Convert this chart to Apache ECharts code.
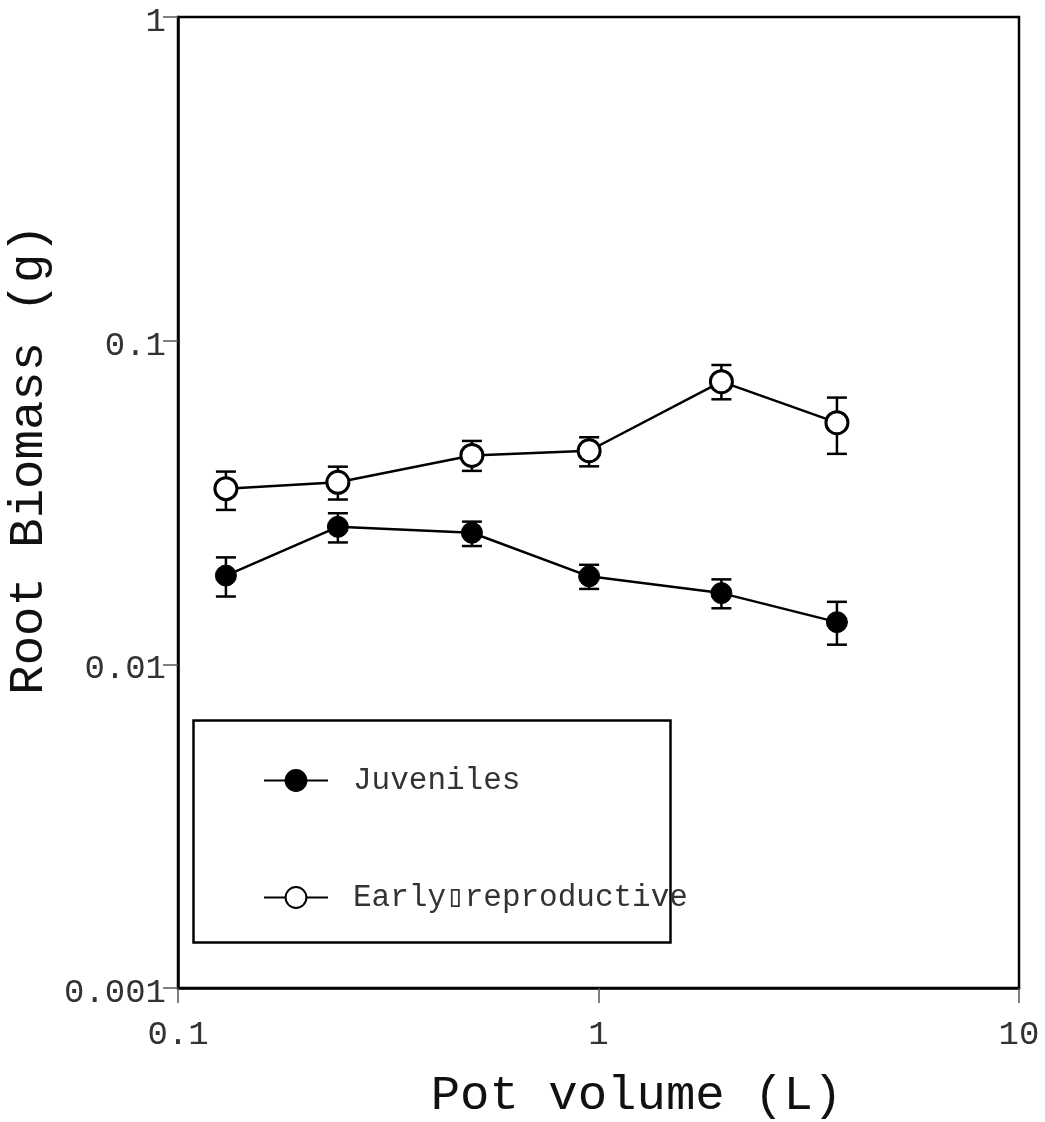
<!DOCTYPE html>
<html>
<head>
<meta charset="utf-8">
<script src="https://cdn.jsdelivr.net/npm/echarts@6/dist/echarts.min.js"></script>
<style>
html,body{margin:0;padding:0;background:#fff;}
#chart{width:1045px;height:1122px;}
</style>
</head>
<body>
<div id="chart"></div>
<script>
// Data
const potVolume = [0.13, 0.24, 0.50, 0.95, 1.96, 3.69];
const juvMean  = [0.0188, 0.0266, 0.0255, 0.0187, 0.0166, 0.0135];
const juvLow   = [0.0162, 0.0238, 0.0232, 0.0171, 0.0149, 0.0115];
const juvHigh  = [0.0214, 0.0293, 0.0276, 0.0203, 0.0183, 0.0156];
const earlyMean = [0.0349, 0.0365, 0.0442, 0.0457, 0.0747, 0.0558];
const earlyLow  = [0.0300, 0.0323, 0.0396, 0.0409, 0.0659, 0.0447];
const earlyHigh = [0.0394, 0.0408, 0.0490, 0.0503, 0.0841, 0.0667];
const xTickLabels = ['0.1', '1', '10'];
const yTickLabels = ['0.001', '0.01', '0.1', '1'];
const seriesNames = ['Juveniles', 'Early\u25AFreproductive'];

const FONT = '"Liberation Mono", "DejaVu Sans Mono", monospace';

function pairs(xs, ys) { return xs.map((x, i) => [x, ys[i]]); }
function errData(xs, lo, hi) { return xs.map((x, i) => [x, lo[i], hi[i]]); }

function errRender(params, api) {
  const x = api.value(0);
  const lo = api.coord([x, api.value(1)]);
  const hi = api.coord([x, api.value(2)]);
  const hw = 10;
  const style = { stroke: '#000', lineWidth: 2.5 };
  return {
    type: 'group',
    children: [
      { type: 'line', shape: { x1: lo[0], y1: lo[1], x2: hi[0], y2: hi[1] }, style: style },
      { type: 'line', shape: { x1: lo[0] - hw, y1: lo[1], x2: lo[0] + hw, y2: lo[1] }, style: style },
      { type: 'line', shape: { x1: hi[0] - hw, y1: hi[1], x2: hi[0] + hw, y2: hi[1] }, style: style }
    ]
  };
}

function labelFrom(list, rich) {
  return function (v) {
    const e = Math.round(Math.log10(v));
    const found = list.find(s => Math.round(Math.log10(parseFloat(s))) === e);
    if (!found) return '';
    return rich ? '{t|' + found + '}' : found;
  };
}

const chart = echarts.init(document.getElementById('chart'), null, { renderer: 'canvas' });
chart.setOption({
  backgroundColor: '#fff',
  animation: false,
  grid: { left: 178, right: 26, top: 17, bottom: 134, show: true, borderColor: '#000', borderWidth: 2.5, backgroundColor: 'transparent', containLabel: false, outerBoundsMode: 'none' },
  xAxis: {
    type: 'log', logBase: 10, min: 0.1, max: 10,
    name: 'Pot volume (L)', nameLocation: 'middle', nameGap: 84,
    nameTextStyle: { fontFamily: FONT, fontSize: 49, color: '#111', padding: [0, 0, 0, 76] },
    axisLine: { show: true, lineStyle: { color: '#000', width: 2.5 } },
    axisTick: { show: true, inside: false, length: 15, lineStyle: { color: '#555', width: 1.5 } },
    axisLabel: { fontFamily: FONT, fontSize: 34, color: '#333', margin: 30, formatter: labelFrom(xTickLabels, false) },
    splitLine: { show: false }, minorTick: { show: false }
  },
  yAxis: {
    type: 'log', logBase: 10, min: 0.001, max: 1,
    name: 'Root Biomass (g)', nameLocation: 'middle', nameGap: 111,
    nameTextStyle: { fontFamily: FONT, fontSize: 49, color: '#111', padding: [0, 0, 0, 86] },
    axisLine: { show: true, lineStyle: { color: '#000', width: 2.5 } },
    axisTick: { show: true, inside: false, length: 15, lineStyle: { color: '#555', width: 1.5 } },
    axisLabel: {
      fontFamily: FONT, fontSize: 34, color: '#333', margin: 12,
      formatter: labelFrom(yTickLabels, true),
      rich: { t: { fontFamily: FONT, fontSize: 34, color: '#333', padding: [10, 0, 0, 0] } }
    },
    splitLine: { show: false }, minorTick: { show: false }
  },
  legend: {
    data: seriesNames,
    orient: 'vertical',
    left: 263, top: 765, padding: 0,
    itemWidth: 64, itemHeight: 26, itemGap: 86,
    textStyle: { fontFamily: FONT, fontSize: 31, color: '#333', padding: [0, 0, 0, 20] },
    selectedMode: false
  },
  graphic: [{
    type: 'rect', left: 191, top: 718, z: 0,
    shape: { width: 477, height: 222 },
    style: { fill: 'none', stroke: '#000', lineWidth: 2.5 }
  }],
  series: [
    { type: 'custom', name: 'errJuv', renderItem: errRender, data: errData(potVolume, juvLow, juvHigh), z: 1, silent: true },
    { type: 'custom', name: 'errEarly', renderItem: errRender, data: errData(potVolume, earlyLow, earlyHigh), z: 1, silent: true },
    {
      type: 'line', name: seriesNames[0], data: pairs(potVolume, juvMean), z: 3,
      symbol: 'circle', symbolSize: 21, showAllSymbol: true,
      lineStyle: { color: '#000', width: 2.5 },
      itemStyle: { color: '#000', borderColor: '#000', borderWidth: 1 }
    },
    {
      type: 'line', name: seriesNames[1], data: pairs(potVolume, earlyMean), z: 3,
      symbol: 'circle', symbolSize: 22, showAllSymbol: true,
      lineStyle: { color: '#000', width: 2.5 },
      itemStyle: { color: '#fff', borderColor: '#000', borderWidth: 3 }
    }
  ]
});
</script>
</body>
</html>
